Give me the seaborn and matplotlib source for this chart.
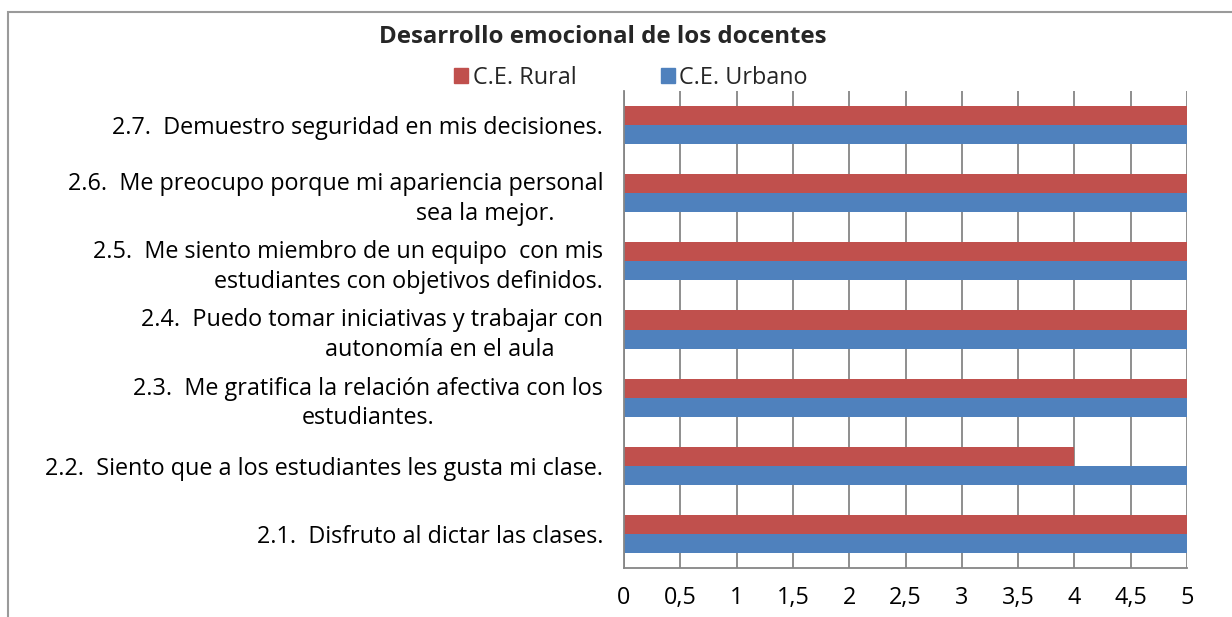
import numpy as np
import pandas as pd
import matplotlib
matplotlib.use("Agg")
import matplotlib.pyplot as plt
import matplotlib.patches as mpatches
import seaborn as sns

# data, top to bottom as drawn
items = [
    "2.7.  Demuestro seguridad en mis decisiones.",
    "2.6.  Me preocupo porque mi apariencia personal\nsea la mejor.        ",
    "2.5.  Me siento miembro de un equipo  con mis\nestudiantes con objetivos definidos.",
    "2.4.  Puedo tomar iniciativas y trabajar con\nautonomía en el aula        ",
    "2.3.  Me gratifica la relación afectiva con los\nestudiantes.",
    "2.2.  Siento que a los estudiantes les gusta mi clase.",
    "2.1.  Disfruto al dictar las clases.",
]
label_align = ["right", "right", "right", "right", "center", "right", "right"]
rural = [5, 5, 5, 5, 5, 4, 5]
urbano = [5, 5, 5, 5, 5, 5, 5]
series = ["C.E. Rural", "C.E. Urbano"]
colors = ["#C0504D", "#4F81BD"]
xticks = [0, 0.5, 1, 1.5, 2, 2.5, 3, 3.5, 4, 4.5, 5]
xtick_labels = ["0", "0,5", "1", "1,5", "2", "2,5", "3", "3,5", "4", "4,5", "5"]

df = pd.DataFrame({
    "item": items * 2,
    "serie": [series[0]] * len(items) + [series[1]] * len(items),
    "valor": rural + urbano,
})

sns.set_theme(style="white")
plt.rcParams["font.family"] = ["Open Sans", "DejaVu Sans"]
FS = 16.8
grid_c = "#868686"

fig = plt.figure(figsize=(12.32, 6.17), dpi=100)
ax = fig.add_axes([624 / 1232, 1 - 568 / 617, 563 / 1232, 477 / 617])

sns.barplot(data=df, x="valor", y="item", hue="serie", order=items, hue_order=series,
            palette=colors, width=0.56, orient="h", errorbar=None, legend=False,
            saturation=1, ax=ax, edgecolor="none")

ax.set_xlim(0, 5)
ax.set_xticks(xticks)
ax.set_xticklabels(xtick_labels, fontsize=FS, color="black")
ax.tick_params(axis="x", length=0, pad=13)
ax.tick_params(axis="y", length=0, pad=15)
ax.set_yticks(range(len(items)))
ax.set_yticklabels(items, fontsize=FS, color="black", linespacing=1.3)
for lbl, al in zip(ax.get_yticklabels(), label_align):
    lbl.set_multialignment(al)
ax.set_xlabel("")
ax.set_ylabel("")
ax.grid(axis="x", color=grid_c, lw=1.3)
ax.set_axisbelow(True)
for s in ["top", "right"]:
    ax.spines[s].set_visible(False)
for s in ["left", "bottom"]:
    ax.spines[s].set_color(grid_c)
    ax.spines[s].set_linewidth(1.3)

fig.text(603 / 1232, 1 - 37 / 617, "Desarrollo emocional de los docentes",
         ha="center", va="center", fontsize=17.3, fontweight="bold")

handles = [mpatches.Patch(color=c, label=s) for c, s in zip(colors, series)]
fig.legend(handles=handles, loc="center", bbox_to_anchor=(631 / 1232, 1 - 78 / 617),
           ncol=2, frameon=False, fontsize=FS, handlelength=0.6, handleheight=0.6,
           handletextpad=0.2, columnspacing=3.6)

# chart frame, cut off at right and bottom
fig.patches.append(mpatches.Rectangle((8 / 1232, -0.2), 1.5, 1.2 - 12 / 617,
                                      transform=fig.transFigure, fill=False,
                                      edgecolor="#9A9A9A", lw=1.5))

fig.savefig("out.png", dpi=100)
